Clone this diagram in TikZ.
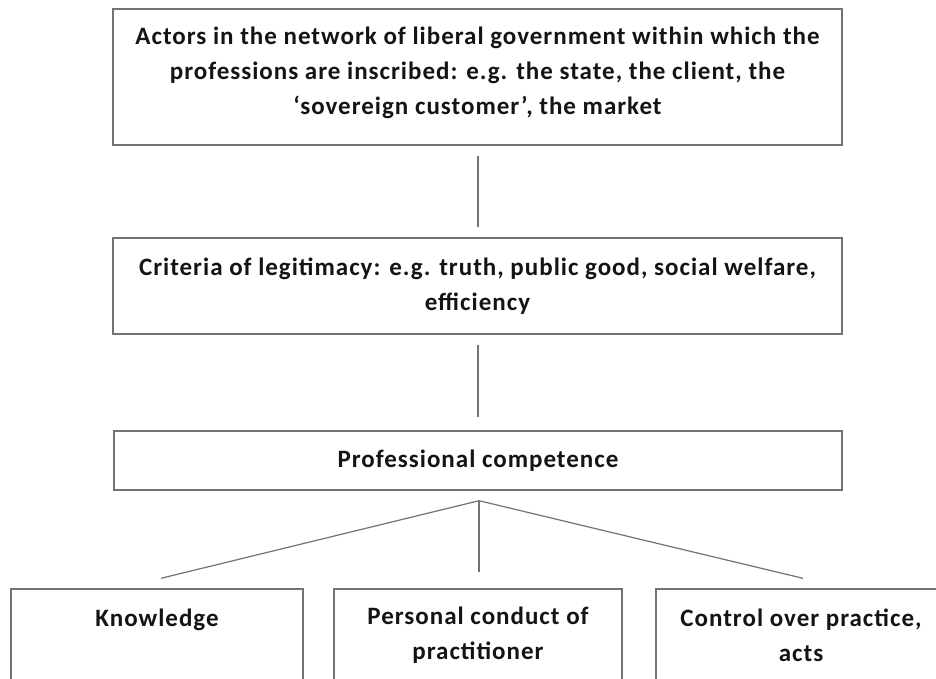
\documentclass[tikz,border=0pt]{standalone}
\usepackage{fontspec}
\setmainfont[LetterSpace=4]{Carlito}
\usetikzlibrary{calc}
\definecolor{boxline}{gray}{0.45}
\definecolor{txt}{gray}{0.08}
\tikzset{
  box/.style={draw=boxline, line width=1.4pt, rectangle, inner sep=0pt, align=center,
    text=txt, font=\bfseries\fontsize{25}{35}\selectfont},
  conn/.style={draw=boxline, line width=1.2pt}
}
\begin{document}
\begin{tikzpicture}[x=1pt,y=-1pt]
\fill[white] (0,0) rectangle (936,679);
\clip (0,0) rectangle (936,679);
\node[box, minimum width=729pt, minimum height=136pt] (top) at (477.5,77)
  {Actors in the network of liberal government within which the\\
   professions are inscribed: e.g. the state, the client, the\\
   ‘sovereign customer’, the market\\[-22pt]\mbox{}};
\node[box, minimum width=729pt, minimum height=96pt] (crit) at (477.5,286)
  {Criteria of legitimacy: e.g. truth, public good, social welfare,\\ efficiency};
\node[box, minimum width=728pt, minimum height=59pt] (prof) at (478,460.5)
  {Professional competence};
\node[box, minimum width=292pt, minimum height=92pt] (know) at (157,635)
  {Knowledge\\ \mbox{}};
\node[box, minimum width=288pt, minimum height=92pt] (pers) at (478,635)
  {Personal conduct of\\ practitioner};
\node[box, minimum width=290pt, minimum height=92pt] (ctrl) at (801,635)
  {Control over practice,\\ acts};
\draw[conn] ($(top.south)+(0.5,10)$) -- ($(crit.north)+(0.5,-10)$);
\draw[conn] ($(crit.south)+(0.5,10)$) -- ($(prof.north)+(0,-13)$);
\coordinate (fork) at ($(prof.south)+(1,10)$);
\draw[conn] (fork) -- ($(know.north)+(4,-10)$);
\draw[conn] (fork) -- ($(pers.north)+(1,-16)$);
\draw[conn] (fork) -- ($(ctrl.north)+(2,-10)$);
\end{tikzpicture}
\end{document}
